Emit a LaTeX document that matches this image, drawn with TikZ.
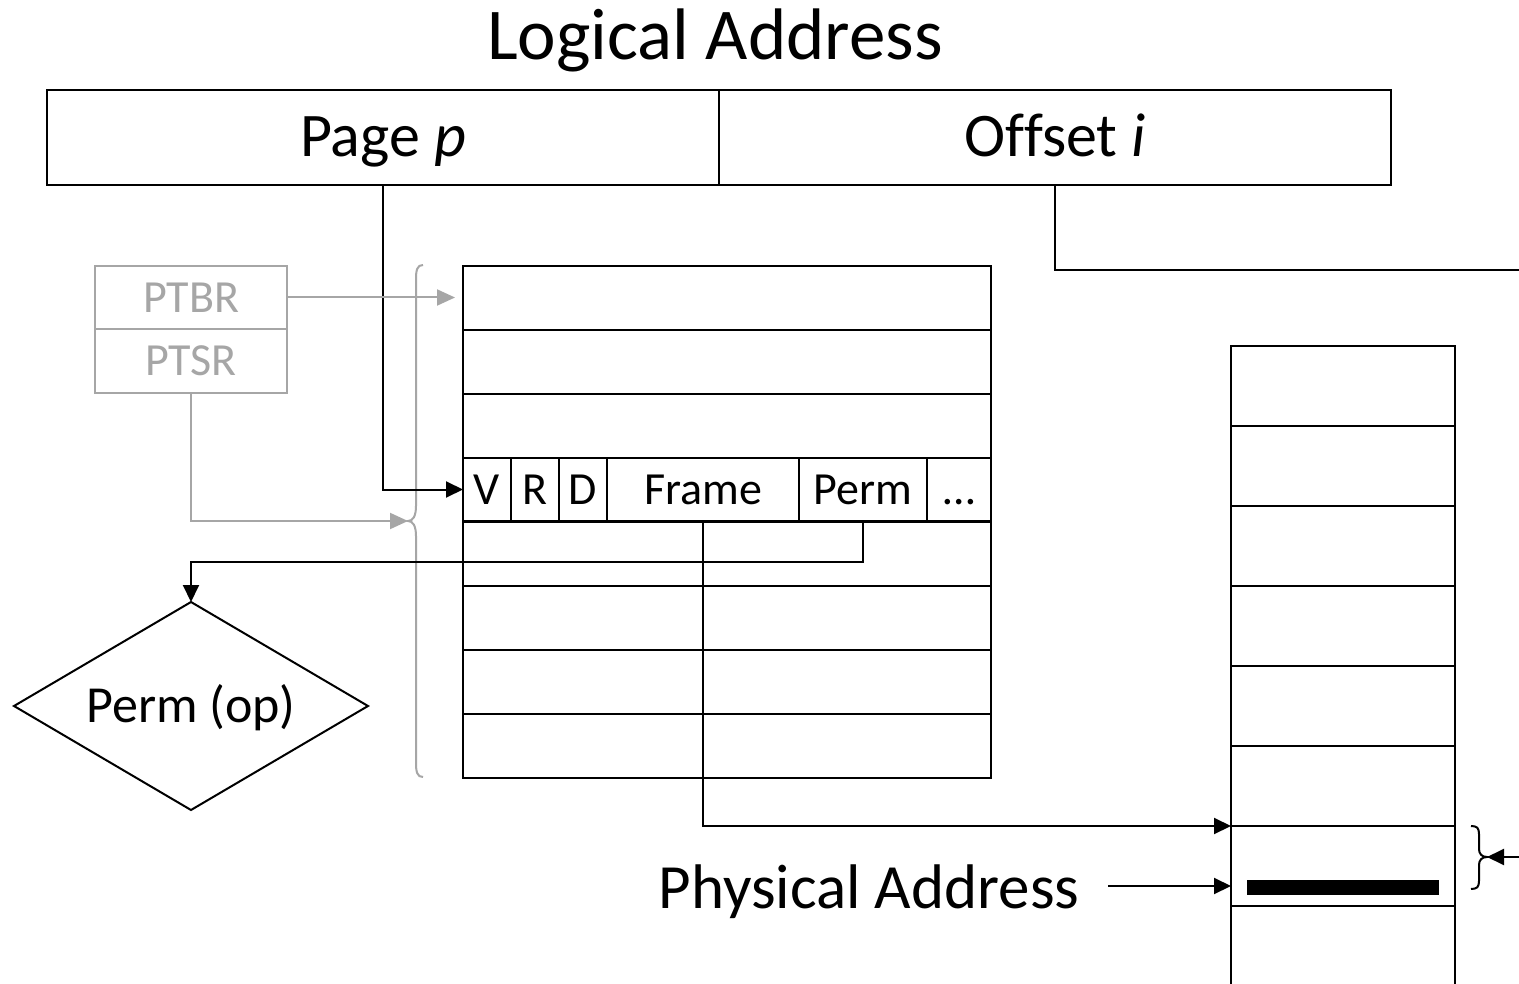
\documentclass[tikz,border=0pt]{standalone}
\usepackage{fontspec}
\setmainfont{Carlito}
\usetikzlibrary{arrows.meta}
\definecolor{gr}{HTML}{A6A6A6}
\begin{document}
\begin{tikzpicture}[x=1pt,y=-1pt,line width=2pt,
  box/.style={draw,anchor=north west,inner sep=0pt,outer sep=0pt},
  bigtext/.style={font=\fontsize{62}{66}\selectfont,text height=39pt,text depth=0pt},
  midtext/.style={font=\fontsize{46}{50}\selectfont,text height=29.6pt,text depth=0pt},
  cell/.style={box,midtext,minimum height=63pt},
  trow/.style={box,minimum width=528pt,minimum height=64pt},
  mrow/.style={box,minimum width=224pt,minimum height=80pt},
  greg/.style={box,draw=gr,text=gr,midtext,minimum width=192pt},
  arr/.style={-{Triangle[length=17pt,width=16pt]}},
  garr/.style={draw=gr,-{Triangle[length=18pt,width=16pt]}}]
\useasboundingbox (0,0) rectangle (1519,984);
\fill[white] (0,0) rectangle (1519,984);

% title
\node[font=\fontsize{73}{80}\selectfont,anchor=base] (title) at (715,60) {Logical Address};

% logical address
\node[box,bigtext,minimum width=672pt,minimum height=95pt] (page) at (47,90) {Page \textit{p}};
\node[box,bigtext,minimum width=672pt,minimum height=95pt] (offset) at (719,90) {Of\kern0ptfset \textit{i}};

% registers
\node[greg,minimum height=63pt] (ptbr) at (95,266) {PTBR};
\node[greg,minimum height=64pt] (ptsr) at (95,329) {PTSR};

% page table
\foreach \k in {0,...,7}{
  \node[trow] (r\k) at (463,{266+64*\k}) {};
}
\node[cell,minimum width=48pt] (v) at (463,458) {V};
\node[cell,minimum width=48pt] (r) at (511,458) {R};
\node[cell,minimum width=48pt] (d) at (559,458) {D};
\node[cell,minimum width=192pt] (frame) at (607,458) {Frame};
\node[cell,minimum width=128pt] (perm) at (799,458) {Perm};
\node[cell,minimum width=64pt] (dots) at (927,458) {\dots};

% left brace
\coordinate (btip) at (408,521);
\draw[gr] (423,265) .. controls (417,265) and (416,270) .. (416,280)
  -- (416,506) .. controls (416,516) and (413,521) .. (btip)
  .. controls (413,521) and (416,526) .. (416,536)
  -- (416,762) .. controls (416,772) and (417,777) .. (423,777);

% memory
\foreach \k in {0,...,6}{
  \node[mrow] (m\k) at (1231,{346+80*\k}) {};
}
\draw (m6.south west) -- (1231,990);
\draw (m6.south east) -- (1455,990);
\node[fill,inner sep=0pt,minimum width=192pt,minimum height=15pt] (bar) at (1343,887) {};

% diamond
\node[font=\fontsize{52}{56}\selectfont,text height=33pt,text depth=0pt,inner sep=0pt] (pop) at (191,706) {Perm (op)};
\draw (14,706) -- (191,602) coordinate (ptop) -- (368,706) -- (191,810) -- cycle;

% physical address
\node[font=\fontsize{63}{66}\selectfont,anchor=base,inner sep=0pt] (phys) at (869,908) {Physical Address};

% right brace
\coordinate (rtip) at (1487,857);
\draw (1471,826) .. controls (1477,826) and (1479,828) .. (1479,834)
  -- (1479,849) .. controls (1479,854) and (1482,857) .. (rtip)
  .. controls (1482,857) and (1479,860) .. (1479,865)
  -- (1479,881) .. controls (1479,887) and (1477,889) .. (1471,889);
\coordinate (redge) at (1519,857);
\draw[arr] (redge) -- (rtip);

% connectors
\coordinate (oend) at (1519,270);
\draw (offset.south) |- (oend);
\draw[arr] (page.south) |- (v.west);
\draw[garr] (ptbr.east) -- ([xshift=-8pt]ptbr.east -| r0.west);
\draw[garr] (ptsr.south) |- (btip);
\coordinate (pj) at (863,562);
\draw[arr] (perm.south) |- (pj) -| (ptop);
\draw[arr] (frame.south) |- (m6.north west);
\coordinate (pa) at (1108,886);
\draw[arr] (pa) -- (pa -| m6.west);
\end{tikzpicture}
\end{document}
